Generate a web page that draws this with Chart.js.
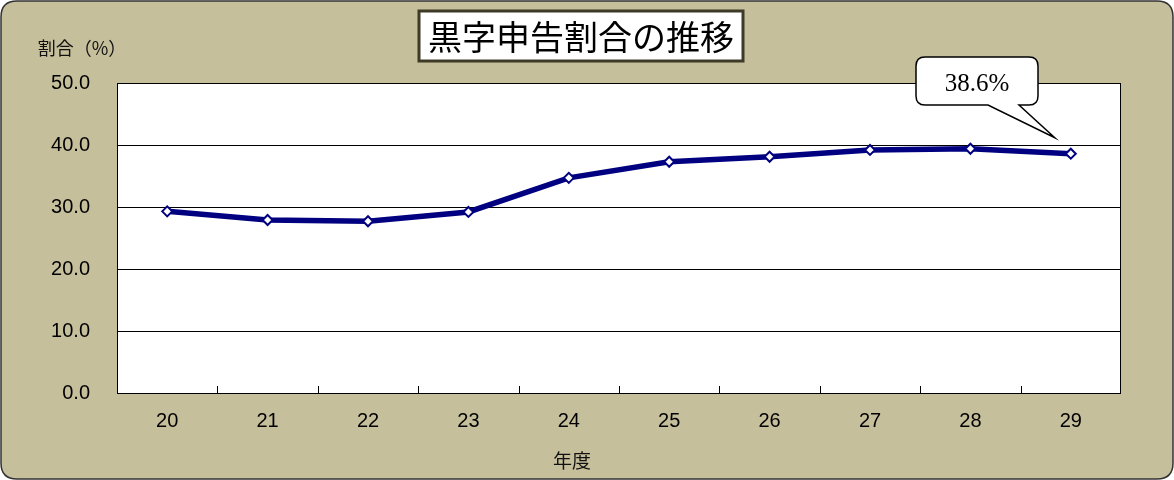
<!DOCTYPE html>
<html><head><meta charset="utf-8">
<script src="https://cdn.jsdelivr.net/npm/chart.js@4"></script>
<style>html,body{margin:0;padding:0;background:#fff}#wrap{width:1174px;height:480px;position:relative}</style>
</head><body><div id="wrap"><canvas id="c" width="1174" height="480"></canvas></div>
<script>
const categories = ['20','21','22','23','24','25','26','27','28','29'];
const ratios = [29.3, 27.9, 27.7, 29.2, 34.7, 37.3, 38.1, 39.2, 39.4, 38.6];
const yTicks = [0, 10, 20, 30, 40, 50];
const titleText = '黒字申告割合の推移';
const yTitle = '割合（%）';
const xTitle = '年度';
const calloutText = '38.6%';

function rr(ctx,x,y,w,h,r){ctx.beginPath();ctx.moveTo(x+r,y);ctx.lineTo(x+w-r,y);ctx.quadraticCurveTo(x+w,y,x+w,y+r);ctx.lineTo(x+w,y+h-r);ctx.quadraticCurveTo(x+w,y+h,x+w-r,y+h);ctx.lineTo(x+r,y+h);ctx.quadraticCurveTo(x,y+h,x,y+h-r);ctx.lineTo(x,y+r);ctx.quadraticCurveTo(x,y,x+r,y);ctx.closePath();}

const deco = {
  id:'deco',
  beforeDraw(chart){
    const ctx=chart.ctx, a=chart.chartArea;
    ctx.save();
    rr(ctx,1,1,1172,478,16);
    ctx.fillStyle='#C6BF9C';ctx.fill();
    ctx.lineWidth=1.5;ctx.strokeStyle='#333';ctx.stroke();
    ctx.fillStyle='#fff';ctx.fillRect(a.left,a.top,a.right-a.left,a.bottom-a.top);
    ctx.restore();
  },
  beforeDatasetsDraw(chart){
    const ctx=chart.ctx,a=chart.chartArea,xs=chart.scales.x;
    ctx.save();
    ctx.strokeStyle='#000';ctx.lineWidth=1;
    ctx.strokeRect(a.left+0.5,a.top+0.5,a.right-a.left-1,a.bottom-a.top);
    for(let i=1;i<categories.length;i++){
      const x=Math.round((xs.getPixelForValue(i-1)+xs.getPixelForValue(i))/2)+0.5;
      ctx.beginPath();ctx.moveTo(x,a.bottom);ctx.lineTo(x,a.bottom-7);ctx.stroke();
    }
    ctx.restore();
  },
  afterDraw(chart){
    const ctx=chart.ctx,a=chart.chartArea,xs=chart.scales.x,ys=chart.scales.y;
    ctx.save();
    // title box
    ctx.fillStyle='#fff';ctx.fillRect(419,11,324,50);
    ctx.lineWidth=3;ctx.strokeStyle='#3d3b26';ctx.strokeRect(419,11,324,50);
    ctx.fillStyle='#000';ctx.font='34px "Noto Sans CJK JP"';ctx.textAlign='center';ctx.textBaseline='middle';
    ctx.fillText(titleText,581,37);
    // axis titles
    ctx.font='18px "Noto Sans CJK JP"';ctx.fillStyle='#111';
    ctx.fillText(yTitle,82,48);
    ctx.font='19px "Noto Sans CJK JP"';
    ctx.fillText(xTitle,572,461);
    // callout
    const last=ratios.length-1;
    const px=xs.getPixelForValue(last), py=ys.getPixelForValue(ratios[last]);
    const tipX=px-16, tipY=py-16;
    const bx=916,by=57,bw=122,bh=48,r=9;
    ctx.beginPath();
    ctx.moveTo(bx+r,by);ctx.lineTo(bx+bw-r,by);ctx.quadraticCurveTo(bx+bw,by,bx+bw,by+r);
    ctx.lineTo(bx+bw,by+bh-r);ctx.quadraticCurveTo(bx+bw,by+bh,bx+bw-r,by+bh);
    ctx.lineTo(1019,by+bh);ctx.lineTo(tipX,tipY);ctx.lineTo(988,by+bh);
    ctx.lineTo(bx+r,by+bh);ctx.quadraticCurveTo(bx,by+bh,bx,by+bh-r);
    ctx.lineTo(bx,by+r);ctx.quadraticCurveTo(bx,by,bx+r,by);ctx.closePath();
    ctx.fillStyle='#fff';ctx.fill();ctx.lineWidth=1.5;ctx.strokeStyle='#000';ctx.stroke();
    ctx.fillStyle='#000';ctx.font='25px "Liberation Serif"';
    ctx.fillText(calloutText,977,84);
    ctx.restore();
  }
};

new Chart(document.getElementById('c'),{
  type:'line',
  data:{labels:categories,datasets:[{data:ratios,borderColor:'#000080',borderWidth:5.5,
    pointStyle:'rectRot',pointRadius:5,pointBorderWidth:2,pointBackgroundColor:'#fff',pointBorderColor:'#000080',
    tension:0,clip:false}]},
  options:{
    responsive:false,animation:false,
    layout:{padding:{left:0,top:83,right:53,bottom:0}},
    plugins:{legend:{display:false},tooltip:{enabled:false}},
    scales:{
      x:{offset:true,grid:{display:false,drawTicks:false},border:{display:false},
        ticks:{padding:16,color:'#000',font:{family:'Liberation Sans',size:20}},
        afterFit(s){s.height=87;}},
      y:{min:0,max:50,afterBuildTicks(s){s.ticks=yTicks.map(v=>({value:v}));},
        grid:{color:'#000',lineWidth:1,drawTicks:false},border:{display:false},
        ticks:{padding:27,color:'#000',font:{family:'Liberation Sans',size:20},callback:v=>Number(v).toFixed(1)},
        afterFit(s){s.width=117;}}
    }
  },
  plugins:[deco]
});
</script></body></html>
